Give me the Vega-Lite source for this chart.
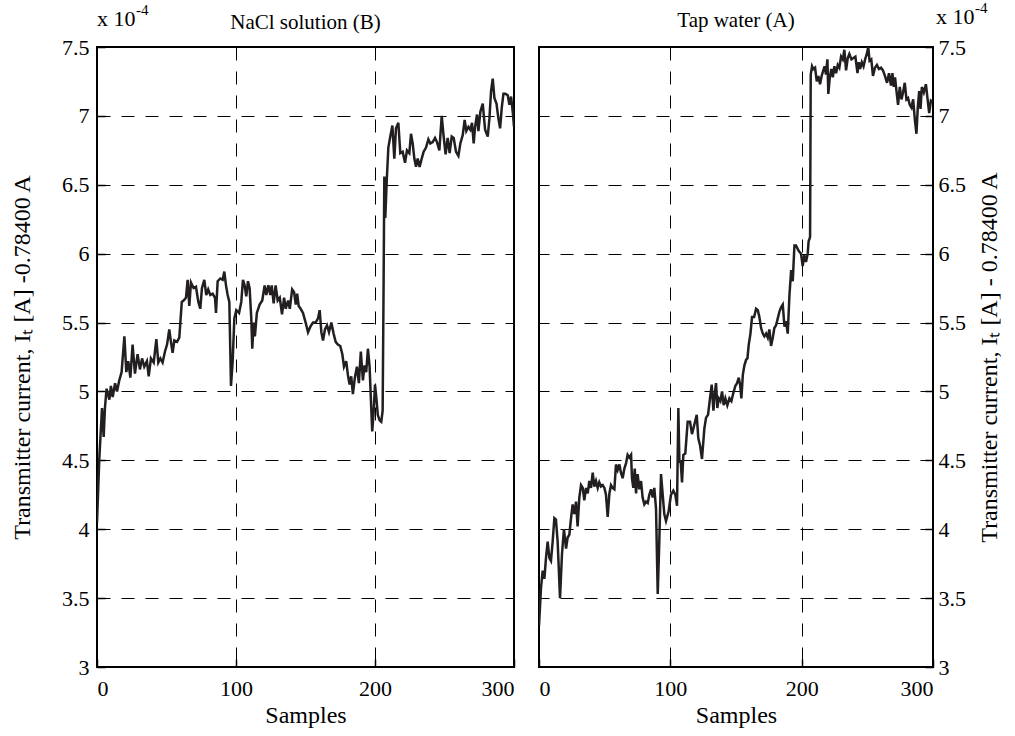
{
  "$schema": "https://vega.github.io/schema/vega-lite/v6.json",
  "background": "white",
  "padding": {"left": 9, "top": 0, "right": 2, "bottom": 4},
  "spacing": 21,
  "config": {
    "font": "Liberation Serif",
    "view": {"stroke": "black", "strokeWidth": 2},
    "axis": {
      "domain": false,
      "grid": true,
      "gridColor": "black",
      "gridDash": [13, 11],
      "gridWidth": 1,
      "gridOpacity": 1,
      "tickColor": "black",
      "tickSize": -8,
      "tickWidth": 1.5,
      "labelFont": "Liberation Serif",
      "labelFontSize": 22,
      "labelColor": "black",
      "titleFont": "Liberation Serif",
      "titleFontSize": 24,
      "titleFontWeight": "normal",
      "titleColor": "black"
    },
    "title": {"font": "Liberation Serif", "fontSize": 21, "fontWeight": "normal", "color": "black", "frame": "group", "offset": -30}
  },
  "datasets": {
    "nacl": [
      {"s":0,"v":4.05},{"s":1.7,"v":4.52},{"s":3.6,"v":4.88},{"s":4.8,"v":4.67},{"s":5.7,"v":4.88},{"s":6.9,"v":5.02},{"s":8.9,"v":4.94},{"s":10,"v":5.04},{"s":11.3,"v":4.96},{"s":13,"v":5.06},{"s":14.4,"v":5.0},{"s":16,"v":5.08},{"s":17.7,"v":5.14},{"s":19.7,"v":5.4},{"s":21.1,"v":5.14},{"s":22.5,"v":5.22},{"s":24,"v":5.1},{"s":25.6,"v":5.34},{"s":27.3,"v":5.13},{"s":29.2,"v":5.27},{"s":30.9,"v":5.16},{"s":32.4,"v":5.24},{"s":34,"v":5.18},{"s":35.9,"v":5.22},{"s":37.2,"v":5.11},{"s":38.8,"v":5.24},{"s":40.8,"v":5.21},{"s":42.7,"v":5.38},{"s":44.1,"v":5.21},{"s":45.6,"v":5.24},{"s":47.2,"v":5.21},{"s":48.9,"v":5.29},{"s":50.4,"v":5.34},{"s":52,"v":5.45},{"s":53.2,"v":5.36},{"s":54.4,"v":5.28},{"s":55.6,"v":5.37},{"s":57.6,"v":5.36},{"s":59.2,"v":5.39},{"s":61,"v":5.65},{"s":62.3,"v":5.66},{"s":64,"v":5.68},{"s":65.2,"v":5.81},{"s":66.4,"v":5.62},{"s":67.6,"v":5.79},{"s":69.5,"v":5.75},{"s":71.2,"v":5.76},{"s":72.9,"v":5.65},{"s":74.3,"v":5.6},{"s":75.5,"v":5.75},{"s":77.2,"v":5.81},{"s":78.6,"v":5.7},{"s":80,"v":5.74},{"s":81.5,"v":5.7},{"s":83.2,"v":5.71},{"s":84.9,"v":5.68},{"s":85.6,"v":5.57},{"s":86.8,"v":5.8},{"s":88.7,"v":5.82},{"s":90.4,"v":5.81},{"s":91.6,"v":5.87},{"s":92.8,"v":5.77},{"s":94,"v":5.7},{"s":95.2,"v":5.65},{"s":96.4,"v":5.04},{"s":97.6,"v":5.22},{"s":98.8,"v":5.53},{"s":100.2,"v":5.59},{"s":102.2,"v":5.57},{"s":103.8,"v":5.65},{"s":105,"v":5.81},{"s":106.2,"v":5.77},{"s":107.4,"v":5.69},{"s":108.6,"v":5.8},{"s":109.8,"v":5.75},{"s":111,"v":5.53},{"s":111.7,"v":5.31},{"s":112.7,"v":5.5},{"s":113.6,"v":5.4},{"s":115,"v":5.57},{"s":117,"v":5.63},{"s":118.9,"v":5.66},{"s":120.6,"v":5.77},{"s":121.8,"v":5.7},{"s":123.3,"v":5.77},{"s":124.7,"v":5.7},{"s":125.7,"v":5.77},{"s":127.1,"v":5.64},{"s":128.5,"v":5.77},{"s":130,"v":5.66},{"s":131.5,"v":5.68},{"s":133.1,"v":5.56},{"s":134.6,"v":5.68},{"s":135.8,"v":5.6},{"s":137.5,"v":5.66},{"s":138.7,"v":5.6},{"s":140.4,"v":5.74},{"s":141.8,"v":5.72},{"s":143,"v":5.63},{"s":144,"v":5.71},{"s":145.1,"v":5.62},{"s":146.5,"v":5.6},{"s":148.2,"v":5.57},{"s":150.1,"v":5.5},{"s":151.8,"v":5.43},{"s":153.5,"v":5.47},{"s":155.4,"v":5.5},{"s":157.3,"v":5.5},{"s":159,"v":5.53},{"s":160.2,"v":5.59},{"s":161.4,"v":5.43},{"s":162.6,"v":5.37},{"s":164,"v":5.45},{"s":165.5,"v":5.48},{"s":166.9,"v":5.43},{"s":168.6,"v":5.5},{"s":170.2,"v":5.42},{"s":171.7,"v":5.36},{"s":173.3,"v":5.34},{"s":175,"v":5.33},{"s":176.5,"v":5.27},{"s":177.7,"v":5.18},{"s":179.3,"v":5.22},{"s":180.5,"v":5.12},{"s":181.7,"v":5.05},{"s":182.9,"v":5.11},{"s":184.1,"v":4.98},{"s":185.5,"v":5.1},{"s":187,"v":5.18},{"s":188.4,"v":5.06},{"s":189.8,"v":5.29},{"s":191.3,"v":5.08},{"s":192.5,"v":5.19},{"s":193.7,"v":5.14},{"s":194.9,"v":5.31},{"s":196.1,"v":5.18},{"s":197.3,"v":4.88},{"s":198,"v":4.71},{"s":199,"v":4.85},{"s":200,"v":5.05},{"s":201,"v":4.95},{"s":202,"v":4.83},{"s":203.3,"v":4.79},{"s":204.5,"v":4.78},{"s":205.5,"v":4.86},{"s":206.2,"v":5.8},{"s":206.7,"v":6.56},{"s":207.4,"v":6.26},{"s":208.4,"v":6.52},{"s":209.6,"v":6.77},{"s":211,"v":6.85},{"s":212.5,"v":6.93},{"s":213.9,"v":6.69},{"s":215.1,"v":6.91},{"s":216.8,"v":6.95},{"s":218.2,"v":6.73},{"s":219.9,"v":6.74},{"s":221.6,"v":6.66},{"s":223,"v":6.75},{"s":224.7,"v":6.73},{"s":225.9,"v":6.87},{"s":227.1,"v":6.8},{"s":228.3,"v":6.69},{"s":229.5,"v":6.63},{"s":230.7,"v":6.69},{"s":232.1,"v":6.63},{"s":233.6,"v":6.69},{"s":235,"v":6.74},{"s":236.7,"v":6.77},{"s":238.4,"v":6.83},{"s":239.8,"v":6.8},{"s":241.5,"v":6.81},{"s":243.2,"v":6.84},{"s":244.6,"v":6.81},{"s":246.3,"v":6.75},{"s":248,"v":7.0},{"s":249.4,"v":6.85},{"s":250.8,"v":6.72},{"s":252.3,"v":6.84},{"s":253.7,"v":6.73},{"s":255.2,"v":6.85},{"s":256.6,"v":6.84},{"s":258.3,"v":6.74},{"s":260,"v":6.71},{"s":261.4,"v":6.8},{"s":263.1,"v":6.86},{"s":264.5,"v":6.97},{"s":265.7,"v":6.89},{"s":267.2,"v":6.92},{"s":268.6,"v":6.9},{"s":269.8,"v":6.95},{"s":271,"v":6.8},{"s":272,"v":6.92},{"s":273.4,"v":7.01},{"s":274.4,"v":6.89},{"s":275.8,"v":7.03},{"s":277.5,"v":7.09},{"s":279.2,"v":6.9},{"s":281.1,"v":6.85},{"s":282.3,"v":6.98},{"s":283.5,"v":7.18},{"s":284.7,"v":7.27},{"s":285.9,"v":7.13},{"s":287.4,"v":7.09},{"s":288.8,"v":6.98},{"s":290,"v":6.91},{"s":291.2,"v":7.06},{"s":292.4,"v":7.16},{"s":293.8,"v":7.16},{"s":295.5,"v":7.15},{"s":296.7,"v":7.08},{"s":297.9,"v":7.14},{"s":299.1,"v":7.03},{"s":300,"v":6.92}
    ],
    "tap": [
      {"s":0,"v":3.3},{"s":1.5,"v":3.57},{"s":2.8,"v":3.7},{"s":4.1,"v":3.64},{"s":5.3,"v":3.79},{"s":6.6,"v":3.91},{"s":7.9,"v":3.79},{"s":9.1,"v":3.77},{"s":10.4,"v":3.91},{"s":11.7,"v":4.08},{"s":12.9,"v":4.07},{"s":14.2,"v":3.91},{"s":16,"v":3.5},{"s":17.5,"v":3.82},{"s":19,"v":4.0},{"s":20.6,"v":3.86},{"s":21.8,"v":3.94},{"s":23.1,"v":3.96},{"s":24.4,"v":4.08},{"s":25.6,"v":4.18},{"s":26.9,"v":4.11},{"s":28.2,"v":4.2},{"s":29.4,"v":4.02},{"s":30.7,"v":4.23},{"s":32,"v":4.32},{"s":33.3,"v":4.3},{"s":34.5,"v":4.21},{"s":35.8,"v":4.3},{"s":37.1,"v":4.26},{"s":38.3,"v":4.35},{"s":39.6,"v":4.3},{"s":40.9,"v":4.41},{"s":42.1,"v":4.31},{"s":43.4,"v":4.35},{"s":44.7,"v":4.3},{"s":45.9,"v":4.34},{"s":47.2,"v":4.31},{"s":48.5,"v":4.32},{"s":49.8,"v":4.3},{"s":51,"v":4.25},{"s":52.3,"v":4.09},{"s":53.6,"v":4.26},{"s":54.8,"v":4.32},{"s":56.1,"v":4.3},{"s":57.4,"v":4.29},{"s":58.6,"v":4.47},{"s":59.9,"v":4.43},{"s":61.2,"v":4.47},{"s":62.4,"v":4.41},{"s":63.7,"v":4.37},{"s":65,"v":4.44},{"s":66.3,"v":4.48},{"s":67.5,"v":4.54},{"s":68.8,"v":4.52},{"s":70.1,"v":4.54},{"s":70.8,"v":4.37},{"s":71.8,"v":4.3},{"s":72.9,"v":4.44},{"s":73.9,"v":4.26},{"s":75.1,"v":4.4},{"s":76.4,"v":4.29},{"s":77.7,"v":4.35},{"s":78.9,"v":4.23},{"s":80.2,"v":4.18},{"s":81.5,"v":4.2},{"s":82.8,"v":4.19},{"s":84,"v":4.25},{"s":85.3,"v":4.29},{"s":86.6,"v":4.23},{"s":87.8,"v":4.3},{"s":89.1,"v":4.15},{"s":90.4,"v":3.53},{"s":91.6,"v":3.91},{"s":92.9,"v":4.4},{"s":94.2,"v":4.25},{"s":95.4,"v":4.11},{"s":96.7,"v":4.06},{"s":98.7,"v":4.13},{"s":100.5,"v":4.25},{"s":102.3,"v":4.28},{"s":103.8,"v":4.25},{"s":105.1,"v":4.17},{"s":106.1,"v":4.88},{"s":106.9,"v":4.49},{"s":107.9,"v":4.49},{"s":108.9,"v":4.34},{"s":109.9,"v":4.54},{"s":111.4,"v":4.55},{"s":113.2,"v":4.78},{"s":115,"v":4.78},{"s":116.5,"v":4.69},{"s":118.3,"v":4.76},{"s":120.1,"v":4.83},{"s":121.3,"v":4.66},{"s":122.6,"v":4.61},{"s":124.1,"v":4.51},{"s":125.9,"v":4.73},{"s":127.2,"v":4.81},{"s":128.7,"v":4.83},{"s":130.2,"v":4.95},{"s":131.5,"v":5.05},{"s":132.8,"v":4.86},{"s":133.8,"v":4.98},{"s":134.8,"v":5.06},{"s":135.8,"v":4.88},{"s":136.8,"v":4.95},{"s":138.1,"v":4.93},{"s":139.4,"v":5.0},{"s":140.6,"v":4.9},{"s":141.9,"v":4.95},{"s":143.4,"v":4.9},{"s":145,"v":4.95},{"s":146.5,"v":4.93},{"s":148,"v":4.99},{"s":149.5,"v":5.04},{"s":150.8,"v":5.06},{"s":152.1,"v":5.1},{"s":153.1,"v":5.05},{"s":154.1,"v":4.95},{"s":155.2,"v":5.12},{"s":156.4,"v":5.19},{"s":157.7,"v":5.23},{"s":158.7,"v":5.24},{"s":159.7,"v":5.34},{"s":161,"v":5.42},{"s":162.2,"v":5.54},{"s":163.8,"v":5.54},{"s":165.3,"v":5.6},{"s":166.6,"v":5.59},{"s":167.8,"v":5.54},{"s":169.1,"v":5.46},{"s":170.4,"v":5.42},{"s":171.6,"v":5.4},{"s":172.9,"v":5.42},{"s":174.2,"v":5.39},{"s":175.4,"v":5.45},{"s":176.7,"v":5.33},{"s":178,"v":5.39},{"s":179.2,"v":5.46},{"s":180.5,"v":5.48},{"s":181.8,"v":5.53},{"s":183.1,"v":5.58},{"s":184.3,"v":5.61},{"s":185.6,"v":5.63},{"s":186.9,"v":5.47},{"s":188.1,"v":5.51},{"s":189.4,"v":5.42},{"s":190.7,"v":5.7},{"s":192,"v":5.88},{"s":193.2,"v":5.8},{"s":194.5,"v":6.06},{"s":195.7,"v":6.06},{"s":197.7,"v":6.02},{"s":199.5,"v":6.0},{"s":200.8,"v":5.91},{"s":202,"v":5.99},{"s":203.3,"v":5.94},{"s":204.6,"v":6.0},{"s":205.3,"v":6.09},{"s":206.4,"v":6.12},{"s":206.9,"v":7.3},{"s":207.9,"v":7.36},{"s":208.9,"v":7.34},{"s":210.2,"v":7.35},{"s":211.5,"v":7.25},{"s":212.7,"v":7.29},{"s":214,"v":7.23},{"s":215.2,"v":7.29},{"s":216.5,"v":7.33},{"s":217.5,"v":7.36},{"s":218.5,"v":7.3},{"s":219.6,"v":7.41},{"s":220.3,"v":7.16},{"s":221.4,"v":7.28},{"s":222.6,"v":7.34},{"s":223.7,"v":7.28},{"s":224.9,"v":7.36},{"s":226.2,"v":7.31},{"s":227.5,"v":7.37},{"s":228.7,"v":7.35},{"s":230,"v":7.43},{"s":231.3,"v":7.41},{"s":232.5,"v":7.48},{"s":233.8,"v":7.33},{"s":235.1,"v":7.42},{"s":236.3,"v":7.45},{"s":237.9,"v":7.41},{"s":239.4,"v":7.42},{"s":240.9,"v":7.43},{"s":242.5,"v":7.31},{"s":243.5,"v":7.39},{"s":244.5,"v":7.34},{"s":245.8,"v":7.39},{"s":247.1,"v":7.36},{"s":248.3,"v":7.41},{"s":249.6,"v":7.45},{"s":250.7,"v":7.5},{"s":251.7,"v":7.4},{"s":253,"v":7.41},{"s":254.3,"v":7.29},{"s":255.8,"v":7.35},{"s":257.3,"v":7.37},{"s":258.8,"v":7.34},{"s":260.4,"v":7.35},{"s":261.9,"v":7.33},{"s":263.4,"v":7.29},{"s":265,"v":7.24},{"s":266.5,"v":7.31},{"s":268,"v":7.22},{"s":269.1,"v":7.31},{"s":270.1,"v":7.21},{"s":271.1,"v":7.28},{"s":272.2,"v":7.18},{"s":273.4,"v":7.08},{"s":274.7,"v":7.21},{"s":276,"v":7.12},{"s":277.2,"v":7.17},{"s":278.5,"v":7.24},{"s":279.8,"v":7.12},{"s":281,"v":7.13},{"s":282.3,"v":7.08},{"s":283.6,"v":7.06},{"s":284.9,"v":7.12},{"s":286.1,"v":6.98},{"s":287.4,"v":6.87},{"s":288.4,"v":7.06},{"s":289.5,"v":7.18},{"s":290.5,"v":7.05},{"s":291.5,"v":7.21},{"s":293,"v":7.17},{"s":294.6,"v":7.23},{"s":295.9,"v":7.12},{"s":297.1,"v":7.02},{"s":298.4,"v":7.11},{"s":299.7,"v":7.1}
    ]
  },
  "hconcat": [
    {
      "width": 417,
      "height": 620,
      "title": {"text": "NaCl solution (B)"},
      "data": {"name": "nacl"},
      "layer": [
        {
          "mark": {"type": "line", "color": "#231f20", "strokeWidth": 2.5, "clip": true},
          "encoding": {
            "x": {"field": "s", "type": "quantitative", "scale": {"domain": [0, 300], "nice": false, "zero": false},
                  "axis": {"orient": "bottom", "values": [0, 100, 200, 300], "title": "Samples", "labelPadding": 19, "titlePadding": 4}},
            "y": {"field": "v", "type": "quantitative", "scale": {"domain": [3, 7.5], "nice": false, "zero": false},
                  "axis": {"orient": "left", "values": [3, 3.5, 4, 4.5, 5, 5.5, 6, 6.5, 7, 7.5], "format": "~g", "title": "Transmitter current, Iₜ [A] -0.78400 A", "labelPadding": 16, "titlePadding": 27}}
          }
        },
        {
          "data": {"values": [{"t": "x 10"}]},
          "mark": {"type": "text", "align": "left", "baseline": "alphabetic", "fontSize": 22, "dy": -21, "color": "black"},
          "encoding": {"x": {"datum": 0}, "y": {"datum": 7.5}, "text": {"field": "t"}}
        },
        {
          "data": {"values": [{"t": "-4"}]},
          "mark": {"type": "text", "align": "left", "baseline": "alphabetic", "fontSize": 15, "dx": 39, "dy": -32, "color": "black"},
          "encoding": {"x": {"datum": 0}, "y": {"datum": 7.5}, "text": {"field": "t"}}
        }
      ]
    },
    {
      "width": 394,
      "height": 620,
      "title": {"text": "Tap water (A)"},
      "data": {"name": "tap"},
      "layer": [
        {
          "mark": {"type": "line", "color": "#231f20", "strokeWidth": 2.5, "clip": true},
          "encoding": {
            "x": {"field": "s", "type": "quantitative", "scale": {"domain": [0, 300], "nice": false, "zero": false},
                  "axis": {"orient": "bottom", "values": [0, 100, 200, 300], "title": "Samples", "labelPadding": 19, "titlePadding": 4}},
            "y": {"field": "v", "type": "quantitative", "scale": {"domain": [3, 7.5], "nice": false, "zero": false},
                  "axis": {"orient": "right", "values": [3, 3.5, 4, 4.5, 5, 5.5, 6, 6.5, 7, 7.5], "format": "~g", "title": "Transmitter current, Iₜ [A] - 0.78400 A", "titleAngle": 270, "titleBaseline": "top", "labelPadding": 13, "titlePadding": 12}}
          }
        },
        {
          "data": {"values": [{"t": "x 10"}]},
          "mark": {"type": "text", "align": "left", "baseline": "alphabetic", "fontSize": 22, "dx": 3, "dy": -23, "color": "black"},
          "encoding": {"x": {"datum": 300}, "y": {"datum": 7.5}, "text": {"field": "t"}}
        },
        {
          "data": {"values": [{"t": "-4"}]},
          "mark": {"type": "text", "align": "left", "baseline": "alphabetic", "fontSize": 15, "dx": 42, "dy": -34, "color": "black"},
          "encoding": {"x": {"datum": 300}, "y": {"datum": 7.5}, "text": {"field": "t"}}
        }
      ]
    }
  ]
}
